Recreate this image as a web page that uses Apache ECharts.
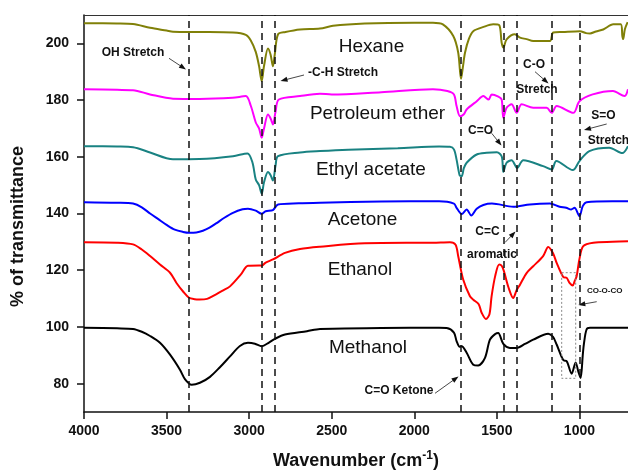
<!DOCTYPE html>
<html><head><meta charset="utf-8">
<script src="https://cdn.jsdelivr.net/npm/echarts@6/dist/echarts.min.js"></script>
<style>html,body{margin:0;padding:0;background:#fff}#c{width:628px;height:472px}</style>
</head><body><div id="c"></div>
<script>
const xTicks = [4000, 3500, 3000, 2500, 2000, 1500, 1000];
const yTicks = [80, 100, 120, 140, 160, 180, 200];
const peakLines = [3364, 2924, 2844, 1717, 1459, 1377, 1168, 1000];
const seriesNames = ['Hexane', 'Petroleum ether', 'Ethyl acetate', 'Acetone', 'Ethanol', 'Methanol'];

const hexane = [[4000,207.1],[3800,207.0],[3703,206.8],[3600,205.5],[3500,204.5],[3461,204.1],[3300,204.0],[3098,203.8],[3020,203.0],[2990,201],[2960,197],[2940,192],[2924,186.7],[2910,192],[2886,198.2],[2870,196],[2856,191.9],[2845,196],[2825,203.2],[2780,204.0],[2692,204.9],[2571,205.2],[2492,206.2],[2300,207.0],[2000,207.3],[1887,207.3],[1827,206.7],[1764,202.6],[1734,196.7],[1717,187.5],[1705,192],[1693,196.7],[1670,201.5],[1643,204.3],[1580,205.8],[1522,206.7],[1486,206.4],[1471,200.2],[1461,198.5],[1441,201.4],[1391,203.2],[1360,202.0],[1320,201.5],[1280,200.8],[1179,200.8],[1159,203.8],[1100,204.0],[997,204.3],[960,203.6],[936,203.5],[900,204.2],[856,204.9],[795,206.7],[750,206.7],[740,202.5],[735,201.5],[725,205],[708,207.5]];

const petroleumEther = [[4000,183.8],[3800,183.6],[3703,183.5],[3600,182],[3461,180.5],[3300,180.4],[3100,180.8],[3020,181.4],[2990,178],[2960,172.1],[2940,170],[2924,166.7],[2910,170],[2886,174.9],[2870,173.5],[2856,171.4],[2840,176],[2820,180.2],[2692,181.4],[2571,182.2],[2500,182.0],[2200,182.8],[1887,183.8],[1800,183.2],[1760,182],[1744,177.9],[1723,174.3],[1700,175],[1683,176.7],[1622,179.6],[1582,181.4],[1550,180.2],[1531,182.0],[1491,181.2],[1471,180.2],[1461,173.8],[1441,177.3],[1411,178.5],[1380,175.5],[1350,178.5],[1280,177.3],[1199,177.3],[1168,175.5],[1138,177.9],[1037,175.5],[1000,179.6],[920,182.0],[797,183.2],[727,181.4],[706,183.8]];

const ethylAcetate = [[4000,163.75],[3800,163.6],[3703,163.4],[3600,161.5],[3461,159.1],[3300,159.2],[3098,160.2],[3010,161.2],[2980,158],[2960,152.0],[2940,150],[2924,147.0],[2910,151],[2886,154.6],[2870,153.5],[2856,151.6],[2840,157],[2825,160.2],[2692,161.5],[2571,162.0],[2400,162.5],[2100,163.0],[1850,163.6],[1784,163.5],[1760,162.6],[1744,159],[1725,153.4],[1713,153.2],[1700,156],[1683,157.9],[1622,160.8],[1562,161.4],[1500,161.6],[1470,160],[1461,154.6],[1441,157.9],[1411,158.8],[1377,156.1],[1340,158.8],[1220,156.7],[1168,155.5],[1140,158.5],[1040,155.3],[1000,158.5],[940,162.0],[820,163.2],[740,161.3],[706,163.75]];

const acetone = [[4000,144.0],[3800,143.8],[3703,143.5],[3650,142.2],[3600,140],[3550,138],[3500,136.0],[3450,134.3],[3400,133.5],[3364,133.2],[3320,133.3],[3280,133.9],[3240,135],[3200,136.5],[3150,138.5],[3098,140.25],[3040,141.5],[3007,141.7],[2960,141],[2924,139.9],[2900,140.8],[2856,141.2],[2825,143.2],[2700,143.6],[2571,143.8],[2200,144.2],[1850,144.3],[1760,143.5],[1744,142.0],[1713,139.8],[1683,141.4],[1655,139.3],[1622,141.7],[1582,143.0],[1530,143.5],[1400,142.4],[1300,143.2],[1179,143.5],[1120,142.4],[1080,142.0],[1050,141.4],[1030,142.0],[1000,139.05],[980,142.6],[957,144.0],[800,144.3],[706,144.3]];

const ethanol = [[4000,129.9],[3800,129.7],[3703,129.1],[3650,127.3],[3600,125],[3540,122],[3479,119.1],[3440,115.5],[3400,112.5],[3364,110.3],[3330,109.8],[3300,109.7],[3255,109.9],[3200,111.5],[3160,112.8],[3116,114.3],[3050,118.5],[3007,121.6],[2940,121.7],[2924,121.6],[2900,122.7],[2856,123.8],[2783,126.1],[2692,127.5],[2571,128.3],[2300,129.5],[1887,129.7],[1784,129.9],[1750,129],[1734,124.9],[1704,116.7],[1663,110.8],[1643,109.6],[1610,108],[1592,105.0],[1566,102.8],[1545,104.5],[1532,110.8],[1510,118],[1486,122.0],[1470,121.5],[1457,119.6],[1430,114],[1401,110.2],[1380,113],[1360,114.9],[1320,119],[1280,121.4],[1220,125],[1189,128.2],[1160,126],[1138,122.6],[1098,117.6],[1077,117.3],[1060,115.5],[1041,114.6],[1030,116],[1017,117.9],[1000,124],[977,128.5],[916,129.7],[800,130.0],[706,130.2]];

const methanol = [[4000,99.7],[3800,99.5],[3703,99.3],[3650,98.3],[3600,96.8],[3540,94.4],[3479,90.2],[3419,84.9],[3389,81.6],[3348,79.6],[3298,80.3],[3237,82.4],[3177,85.8],[3116,89.6],[3056,93.3],[3007,94.4],[2965,94.1],[2924,93.2],[2880,94.5],[2844,95.8],[2783,97.3],[2650,98.5],[2571,99.3],[2200,99.6],[1850,99.7],[1804,99.6],[1760,98],[1744,95.0],[1725,93],[1713,93.2],[1683,90.9],[1643,86.7],[1613,86.4],[1572,89.1],[1542,95.5],[1510,97.5],[1492,97.9],[1461,94],[1421,92.6],[1380,92.6],[1330,94],[1280,95.5],[1189,97.6],[1160,96.5],[1138,93.8],[1098,88.3],[1077,87.9],[1047,83.5],[1023,87.5],[1007,84.3],[993,82.0],[980,90],[973,94],[957,99.1],[936,99.7],[800,99.7],[706,99.7]];

const seriesData = [hexane, petroleumEther, ethylAcetate, acetone, ethanol, methanol];
const colors = ['#808008', '#ff00ff', '#198282', '#0000ff', '#ff0000', '#000000'];

const FONT = '"Liberation Sans", Arial, sans-serif';

function arrow(x1, y1, x2, y2) {
  const a = Math.atan2(y2 - y1, x2 - x1), c = Math.cos(a), s = Math.sin(a);
  const L = 7, W = 2.6;
  return [
    { type: 'line', shape: { x1, y1, x2: x2 - L * 0.7 * c, y2: y2 - L * 0.7 * s }, style: { stroke: '#333', lineWidth: 0.9 }, z: 100 },
    { type: 'polygon', shape: { points: [[x2, y2], [x2 - L * c + W * s, y2 - L * s - W * c], [x2 - L * c - W * s, y2 - L * s + W * c]] }, style: { fill: '#111' }, z: 100 }
  ];
}
function txt(x, y, t, size, weight) {
  return { type: 'text', x, y, z: 100, style: { text: t, font: (weight || 'normal') + ' ' + size + 'px ' + FONT, fill: '#111', align: 'center', verticalAlign: 'middle' } };
}

const series = seriesData.map((d, i) => ({
  name: seriesNames[i], type: 'line', data: d, showSymbol: false, symbol: 'none',
  smooth: 0.3,
  lineStyle: { color: colors[i], width: 2 }, itemStyle: { color: colors[i] }, z: 2
}));
series[0].markLine = {
  silent: true, symbol: ['none', 'none'], label: { show: false },
  lineStyle: { color: '#111', type: [7, 5], width: 1.5 },
  data: peakLines.map(v => ({ xAxis: v })), z: 5, animation: false
};

const graphic = [
  txt(371.5, 46.7, seriesNames[0], 19),
  txt(377.5, 113.3, seriesNames[1], 19),
  txt(371, 170, seriesNames[2], 19),
  txt(362.5, 220, seriesNames[3], 19),
  txt(360, 269.3, seriesNames[4], 19),
  txt(368, 347.3, seriesNames[5], 19),
  txt(133, 52.7, 'OH Stretch', 12, 'bold'),
  txt(343, 72.7, '-C-H Stretch', 12, 'bold'),
  txt(534, 65, 'C-O', 12, 'bold'),
  txt(537, 89.3, 'Stretch', 12, 'bold'),
  txt(603.5, 116, 'S=O', 12, 'bold'),
  txt(608.5, 140.7, 'Stretch', 12, 'bold'),
  txt(480.5, 130.7, 'C=O', 12, 'bold'),
  txt(487.5, 231.7, 'C=C', 12, 'bold'),
  txt(492, 255, 'aromatic', 12, 'bold'),
  txt(604.7, 290.7, 'CO-O-CO', 8, 'bold'),
  txt(399, 390.7, 'C=O Ketone', 12, 'bold'),
  { type: 'rect', z: 90, shape: { x: 561.7, y: 272.7, width: 14, height: 105.6 }, style: { fill: 'none', stroke: '#888', lineWidth: 1, lineDash: [2, 2] } }
].concat(
  arrow(169, 58.3, 186, 69.5),
  arrow(304, 75, 280.5, 81),
  arrow(535, 71.7, 548.5, 83.5),
  arrow(606.7, 124, 584, 130),
  arrow(491.7, 133.3, 501.5, 145.5),
  arrow(505, 242.5, 515.5, 231.5),
  arrow(596.7, 301.7, 578.3, 305),
  arrow(435, 393.3, 458.5, 376.5)
);

const chart = echarts.init(document.getElementById('c'), null, { renderer: 'canvas' });
chart.setOption({
  animation: false,
  backgroundColor: '#fff',
  grid: { left: 84, right: 0, top: 15, bottom: 60, containLabel: false, outerBoundsMode: 'none' },
  xAxis: [{
    type: 'value', inverse: true, min: 706, max: 4000,
    name: '{a|Wavenumber (cm}{s|-1}{a|)}', nameLocation: 'middle', nameGap: 38,
    nameTextStyle: { rich: { a: { fontFamily: FONT, fontWeight: 'bold', fontSize: 18, color: '#111' }, s: { fontFamily: FONT, fontWeight: 'bold', fontSize: 12, color: '#111', padding: [0, 0, 10, 0] } } },
    axisLine: { show: true, onZero: false, lineStyle: { color: '#111', width: 1.5 } },
    axisTick: { show: true, length: 7, lineStyle: { color: '#111', width: 1.5 }, customValues: xTicks },
    axisLabel: { fontFamily: FONT, fontWeight: 'bold', fontSize: 14, color: '#111', margin: 12, customValues: xTicks, formatter: v => String(v) },
    splitLine: { show: false }
  }, {
    type: 'value', inverse: true, min: 706, max: 4000, position: 'top',
    axisLine: { show: true, onZero: false, lineStyle: { color: '#333', width: 1 } },
    axisTick: { show: false }, axisLabel: { show: false }, splitLine: { show: false }
  }],
  yAxis: {
    type: 'value', min: 70, max: 210,
    name: '% of transmittance', nameLocation: 'middle', nameGap: 57,
    nameTextStyle: { fontFamily: FONT, fontWeight: 'bold', fontSize: 18, color: '#111', padding: [0, 26, 0, 0] },
    axisLine: { show: true, onZero: false, lineStyle: { color: '#111', width: 1.5 } },
    axisTick: { show: true, length: 7, lineStyle: { color: '#111', width: 1.5 }, customValues: yTicks },
    axisLabel: { fontFamily: FONT, fontWeight: 'bold', fontSize: 14, color: '#111', margin: 15, customValues: yTicks, formatter: v => String(v) },
    splitLine: { show: false }
  },
  series: series,
  graphic: graphic
});
</script>
</body></html>
